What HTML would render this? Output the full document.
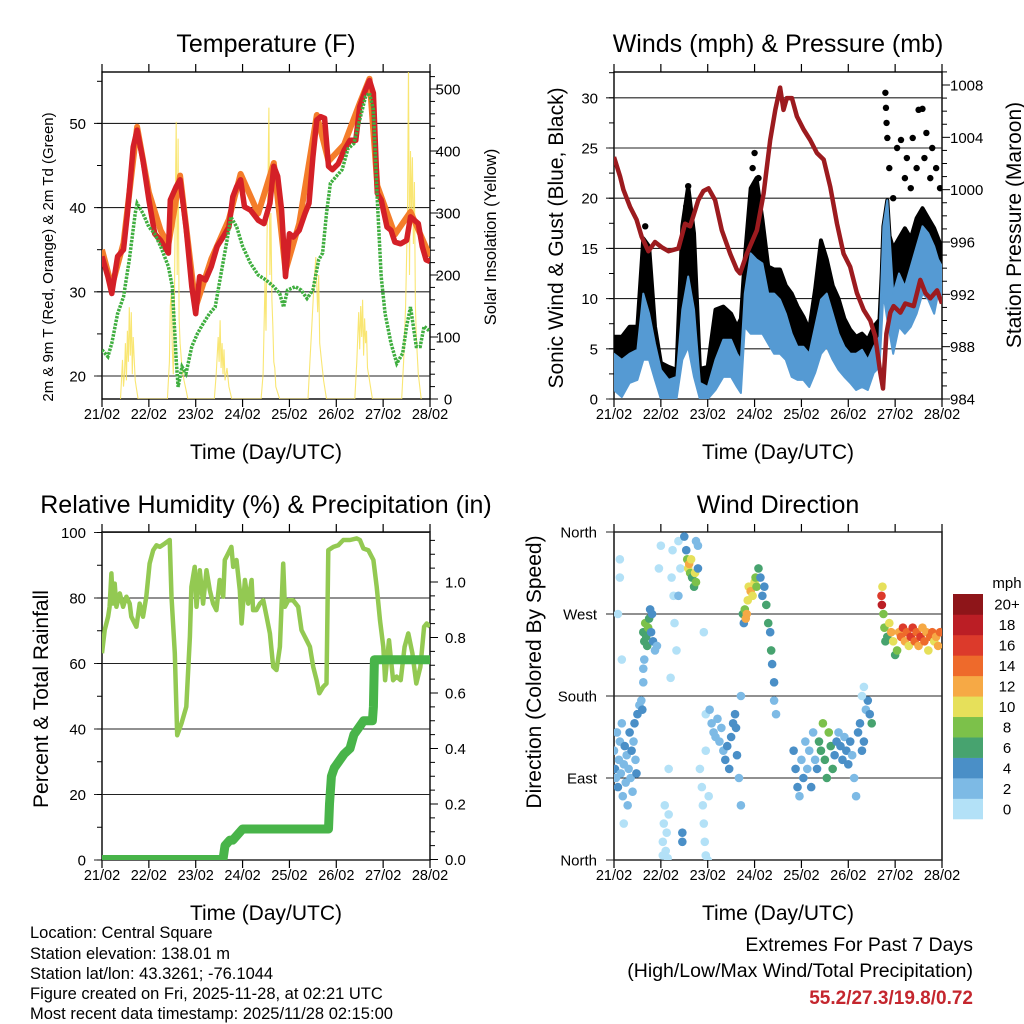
<!DOCTYPE html>
<html><head><meta charset="utf-8">
<style>
html,body{margin:0;padding:0;background:#fff;}
svg{display:block;font-family:"Liberation Sans",Arial,sans-serif;}
</style></head>
<body>
<svg id="fig" width="1024" height="1024" viewBox="0 0 1024 1024" xmlns="http://www.w3.org/2000/svg">
<rect width="1024" height="1024" fill="#fff"/>
<defs>
<clipPath id="c1"><rect x="102" y="72" width="328" height="327"/></clipPath>
<clipPath id="c2"><rect x="614" y="72" width="328" height="327"/></clipPath>
<clipPath id="c3"><rect x="102" y="532" width="328" height="328"/></clipPath>
<clipPath id="c4"><rect x="614" y="532" width="328" height="328"/></clipPath>
</defs>
<g id="layer"></g>
<!-- titles -->
<text x="266" y="52" font-size="25" text-anchor="middle">Temperature (F)</text>
<text x="778" y="52" font-size="25" text-anchor="middle">Winds (mph) &amp; Pressure (mb)</text>
<text x="266" y="513" font-size="25" text-anchor="middle">Relative Humidity (%) &amp; Precipitation (in)</text>
<text x="778" y="513" font-size="25" text-anchor="middle">Wind Direction</text>
<!-- axis titles -->
<text x="266" y="459" font-size="21" text-anchor="middle">Time (Day/UTC)</text>
<text x="778" y="459" font-size="21" text-anchor="middle">Time (Day/UTC)</text>
<text x="266" y="920" font-size="21" text-anchor="middle">Time (Day/UTC)</text>
<text x="778" y="920" font-size="21" text-anchor="middle">Time (Day/UTC)</text>
<text transform="translate(53,257) rotate(-90)" font-size="15" text-anchor="middle">2m &amp; 9m T (Red, Orange) &amp; 2m Td (Green)</text>
<text transform="translate(496,237) rotate(-90)" font-size="16.5" text-anchor="middle">Solar Insolation (Yellow)</text>
<text transform="translate(563,238) rotate(-90)" font-size="21" text-anchor="middle">Sonic Wind &amp; Gust (Blue, Black)</text>
<text transform="translate(1021,225) rotate(-90)" font-size="21" text-anchor="middle">Station Pressure (Maroon)</text>
<text transform="translate(48,699) rotate(-90)" font-size="21" text-anchor="middle">Percent &amp; Total Rainfall</text>
<text transform="translate(541,672) rotate(-90)" font-size="21" text-anchor="middle">Direction (Colored By Speed)</text>
<!-- footer -->
<g font-size="16.5">
<text x="30" y="938">Location: Central Square</text>
<text x="30" y="959">Station elevation: 138.01 m</text>
<text x="30" y="979">Station lat/lon: 43.3261; -76.1044</text>
<text x="30" y="999">Figure created on Fri, 2025-11-28, at 02:21 UTC</text>
<text x="30" y="1019">Most recent data timestamp: 2025/11/28 02:15:00</text>
</g>
<text x="973" y="951" font-size="19.5" text-anchor="end">Extremes For Past 7 Days</text>
<text x="973" y="977" font-size="19.5" text-anchor="end">(High/Low/Max Wind/Total Precipitation)</text>
<text x="973" y="1004" font-size="19" font-weight="bold" fill="#c4262e" text-anchor="end">55.2/27.3/19.8/0.72</text>
</svg>
<script>
// ---------- data ----------
const dayLabels = ["21/02","22/02","23/02","24/02","25/02","26/02","27/02","28/02"];
const tempT = [0,3,5,8,11,13,16,18,21,24,27,30,33,34,35,38,40,43,46,48,50,53,56,59,62,65,67,69,71,73,76,80,83,86,88,90,92,94,96,98,101,104,106,108,110,112,114,116,118,121,124,127,130,132,135,137,139,141,143,146,148,150,153,156,158,160,162,164,166,168];
const tempRed = [34.2,31.8,29.8,34.2,35,39.3,47.2,49.2,45.6,40.9,36.9,36.1,35,34.6,40.9,42.5,43.3,37.7,30.6,27.4,31.8,31.4,33,35.4,36.5,37.7,41.3,42.5,43.3,40.1,39.7,38.5,38.1,40.5,44.9,43.7,39.7,31.8,36.9,36.5,37.3,39.3,40.5,46,50.4,50.8,50.6,44.9,44.5,45.2,46.8,48,48,52,54,55.1,53.6,41.7,40.9,37.7,37.3,35.9,35.7,36.1,38.9,38.5,38.1,35.4,33.8,33.6];
const orangeT = [0,5,11,18,24,30,34,40,48,56,65,71,80,88,94,101,110,116,124,132,137,141,150,158,168];
const orangeV = [35,30.6,35.8,49.6,41.8,37.3,35.6,43.8,28.2,33.9,38.6,44,39.3,45.3,32.5,38.1,51,45.5,47.5,52.4,55.3,42.6,36.8,39.5,34.2];
const tdT = [0,3,5,8,11,14,17,18,21,24,27,30,34,36,38,39,41,43,46,49,52,55,58,61,64,66,69,72,76,80,84,88,91,93,95,99,102,105,108,111,113,115,117,120,123,126,129,132,135,137,139,141,143,145,148,151,154,156,158,161,163,165,168];
const tdV = [23.1,22.3,23.9,27.4,29.4,33.8,39.3,40.5,39.3,37.7,36.9,35.4,33,30.6,21.9,18.7,21.1,20.3,23.5,25.1,26.3,27.4,28.2,32.2,36.1,38.9,37.7,35.4,33.4,32,31.4,30.6,29.8,28.2,30.2,30.6,30.2,29.2,30.2,33.8,34.6,39.3,42.9,43.7,44.5,47,47.6,50.4,53.2,53.6,51.6,40.9,31.8,27.4,23.9,21.5,22.7,25.9,28.2,23.5,23.5,25.9,25.3];
const solarT = [9.5,10.5,11,11.5,12,12.5,13,13.5,14,14.5,15,15.5,16,17,18.5, 33.5,34.5,35,35.5,36,36.5,37,37.5,38,38.5,39,39.5,40,41,42,43,44, 57.5,58.5,59.5,60,60.5,61,61.5,62,62.5,63,64,65,66.5, 81.5,82.5,83.5,84,84.5,85,85.5,86,86.5,87,87.5,88,88.5,89,90,91, 105.5,106.5,107.5,108.5,109.5,110.5,111,111.5,112.5,113.5,115, 129.5,130.5,131.5,132,132.5,133,133.5,134,134.5,135,135.5,136,137,138.5, 153.5,154.5,155.5,156.5,157,157.5,158,158.5,159,159.5,160,160.5,161,162,163.5];
const solarV = [0,63,20,40,90,30,110,60,148,70,140,40,100,30,0, 0,60,150,170,80,40,120,300,447,200,420,130,90,50,30,15,0, 0,40,100,60,127,50,90,40,80,30,50,20,0, 0,40,190,110,260,350,470,200,300,160,120,60,50,20,10,0, 0,60,120,180,229,140,200,90,60,30,0, 0,60,140,80,150,100,160,70,130,90,110,50,30,0, 0,60,150,300,540,200,400,300,390,250,350,150,100,40,0];
const tempTicks = [20,30,40,50];
const solarTicks = [0,100,200,300,400,500];

const windT = [0,4,8,12,15,18,21,24,28,32,35,38,41,44,48,52,56,60,63,65,67,70,73,76,79,82,85,88,91,94,97,100,103,106,109,112,115,118,121,124,127,130,133,136,138,140,143,146,149,152,155,158,161,164,166,168];
const windLo = [0.9,0.2,1.6,1.9,3.9,3.9,1.9,0,0,0,3.9,5.2,2.2,0,0,0.9,2.2,2.2,1.2,0.6,7.2,6.5,6.5,6.5,5.5,4.5,4.5,3.9,2.2,1.9,1.9,1.2,2.6,4.5,5.2,3.9,2.9,2.2,1.6,0.9,1.2,0.9,2.6,3.2,10.5,7.9,4.5,7.2,6.5,7.2,8.5,10.5,9.9,8.5,10.5,9.9];
const windHi = [4.5,3.9,4.5,4.9,10.5,8.5,5.5,2.9,1.9,2.2,8.9,12.2,8.9,1.6,1.2,3.9,5.9,5.9,4.5,3.9,10.5,14.5,13.9,13.5,10.5,10.5,9.9,8.5,6.5,5.2,5.2,4.5,7.2,9.9,10.5,8.5,6.5,5.2,4.5,4.5,4.9,3.9,5.2,6.2,17.2,19.8,10.5,12.5,11.2,13.2,15.2,17.2,16.5,15.2,13.9,13.2];
const gustV = [6.2,6.2,7.2,7.2,16,15.2,7.2,3.6,3.2,2.9,17.2,21.2,16.5,3.0,3.2,8.9,9.2,8.5,7.2,8.0,14,21,22,17.9,13.2,12.9,12.9,11.3,10.5,9.2,8.2,6.9,10.9,15.8,13.9,11.3,10,8,6.9,6.2,6.5,5.9,7.2,7.9,16,17,15,16,17,16,18,19,18,17,16,15];
const gustPeakT = [16,37,38,71,72,74,139,139.3,139.6,140,141,143,145,147,149,150,152,153,155,156,158,159,160,162,163,165,167];
const gustPeakV = [17.2,19.2,21.2,23,24.5,22,30.5,29,27.5,26,23,20,25,25.8,22,24,21,26,23,28.8,28.9,24,26.5,22,25,23,21];
const presT = [0,3.1,4.8,8.2,11.6,14.2,17.6,21,24.4,27.9,33,36.4,39,43.2,45.8,48.4,51.8,55.2,59.5,62.9,64.6,68,73.2,76.6,80,82.6,85.1,86.8,88.5,91.1,93.7,97.1,100.5,103.9,107.4,110.8,114.2,117.6,121,124.4,127.9,131.3,133.8,136.4,137.8,139.5,141.5,143.2,146.7,149.2,153.5,156.9,159.5,162,165.5,168];
const presV = [1002.5,1001,1000,998.7,997.7,996.4,995.3,996,995.6,995.3,995.5,997.4,997.2,999.2,999.9,1000.1,999.2,996.9,995.1,993.9,993.6,995.1,996.9,999.7,1003.8,1006.1,1007.8,1006.1,1007,1007,1005.6,1004.6,1003.8,1002.8,1002.3,1000.2,997.4,995.1,994.1,992.1,990.8,990,988.8,986,984.8,989,990.6,991.1,990.6,991.3,991.1,993.1,992.1,991.7,992.3,991.3];
const windTicks = [0,5,10,15,20,25,30];
const presTicks = [984,988,992,996,1000,1004,1008];

const rhT = [0,1.4,3.1,3.9,4.8,5.6,6.5,7.4,9.1,10.8,12.5,14.2,15,17.6,19.3,21,22.7,24.4,26.2,27.9,29.6,32.1,34.7,35.6,37.3,38.5,40.7,43.2,45,45.8,47.5,48.4,50.1,51.8,53.5,55.2,56.9,58.6,60.3,62.1,62.9,64.6,66.3,67.2,68.9,70.6,71.5,73.2,74.9,76.6,77.4,79.1,80.9,82.6,84.3,86,87.7,89.4,91.1,92.8,93.7,95.4,97.9,100.5,102.2,104.8,106.5,108.2,109.9,111.3,113.3,115,115.9,118.5,121,123.6,127,130.4,132.1,133.9,136.4,139,140.7,142.4,144.1,145,147,149.1,150.9,153,155,156.9,159,161,163.1,165,166.3,168];
const rhV = [63.1,70.2,74.3,77.3,87.5,78.3,84.4,77.3,81.4,77.3,80.4,78.3,74.3,71.2,78.3,74.3,80.4,90.5,94.6,96.1,95.6,96.6,97.7,80.4,63.1,38.1,41.7,46.8,68.2,83.4,89.5,77.3,88.5,78.3,88.5,82.4,78.3,76.3,85.5,80.4,91.6,93.6,95.6,89.5,91.6,82.4,72.2,85.5,78.3,85.5,76.3,76.3,78.3,79.3,74.3,69.2,59,58,65.1,90.5,77.3,79.3,79.3,77.3,70.2,67.1,65.1,59,54.9,50.9,52.9,53.9,94.6,95.6,96.1,97.7,97.7,98.2,97.7,95.1,94.6,91.6,83.4,73.2,65.1,54.9,67.1,54.9,56,54.9,65.1,69.2,63.1,53.9,59,71.2,72.2,71.2];
const rainT = [0,62,63,65.5,67,72,116,116.5,117.5,119,121,124,127,129,131,134,138.5,139,139.5,168];
const rainV = [0,0,0.05,0.07,0.07,0.11,0.11,0.2,0.3,0.33,0.35,0.38,0.40,0.45,0.47,0.5,0.5,0.55,0.72,0.72];
const rhTicks = [0,20,40,60,80,100];
const rainTicks = ["0.0","0.2","0.4","0.6","0.8","1.0"];

const dirT = [0,0.5,1,1.5,2,2.5,3,3.5,4,4.5,5,5.5,6,6.5,7,7.5,8,8.5,9,9.5,10,10.5,11,11.5,12,13,14,14.5,3,3,2,4,5,
 15,15.5,16,16.5,17,17.5,18,18.5,19,19.5,20,21,22,15,15,15.5,
 23,24,25,25,25.5,26,26.5,27,27.5,28,28,29,29.5,30,30.5,31,32,33,33,34,35,35,
 36,37,37.5,38,38.5,39,39.5,40,41,41.5,42,43,43,42,44,45,45.5,46,46.5,47,48,48.5,47,46,47,
 49,50,51,52,53,54,55,56,57,58,59,60,61,62,62.5,63,64,65,65,
 66,66.5,67,67.5,68,68.5,69,70,71,72,72.5,73,74,75,76,77,78,79,80,80.5,81,82,82,83,
 92,93,94,95,96,97,98,99,100,101,102,103,104,105,106,107,108,109,110,111,112,113,114,115,116,117,118,119,120,121,122,123,124,125,126,127,128,129,130,131,132,128,127,
 137,137.2,137.5,138,138.5,139,140,141,142,143,144,145,146,147,148,149,150,151,152,153,154,155,156,157,158,159,160,161,162,163,164,165,166,167];
const dirV = [120,100,90,140,80,110,130,95,150,70,105,125,85,115,60,100,140,90,120,75,130,150,110,95,160,170,175,165,330,310,270,220,40,
 250,240,260,245,235,255,265,275,250,270,240,230,235,210,195,220,
 320,345,5,20,40,60,10,30,2,100,50,200,310,340,290,260,230,350,290,320,20,30,
 355,340,330,320,325,315,330,310,300,315,305,320,345,350,100,80,60,40,20,5,0,70,120,250,160,
 165,150,140,135,155,130,145,120,110,125,100,135,150,160,145,115,90,60,180,
 270,260,275,265,270,285,300,295,290,305,310,300,320,310,290,300,280,260,250,230,215,195,175,160,
 120,100,80,70,110,90,130,100,120,80,140,110,100,130,120,150,110,90,140,125,100,115,130,140,125,110,135,120,105,130,115,90,70,140,150,120,130,165,175,160,150,190,180,
 290,280,300,270,255,240,245,260,250,240,225,230,250,245,255,240,250,235,245,255,240,250,235,245,255,240,250,230,245,250,240,245,235,250];
const dirS = [3,4,3,2,4,3,3,2,2,3,3,4,3,2,3,3,4,3,4,3,3,4,3,4,4,3,3,4,1,1,1,1,1,
 6,7,8,7,6,9,7,5,4,5,4,3,2,3,3,2,
 1,1,1,1,1,1,1,1,1,1,1,1,1,1,1,1,1,1,2,1,4,4,
 4,5,8,10,12,9,11,7,6,10,8,5,2,2,1,1,1,1,1,1,1,1,1,1,1,
 3,2,3,2,2,3,2,3,4,4,5,4,4,4,5,4,2,2,2,
 6,5,8,12,13,10,10,12,10,11,9,8,6,5,4,5,6,6,5,6,5,4,3,3,
 4,4,4,3,3,4,2,3,2,4,3,3,5,6,7,8,6,7,8,7,6,5,4,3,4,4,3,4,4,4,3,3,2,4,4,5,4,3,4,5,6,1,1,
 16,18,10,9,8,6,7,11,12,10,6,8,13,14,16,12,15,11,17,16,14,15,13,16,12,14,13,10,15,14,11,13,12,14];
const dirTicks = ["North","East","South","West","North"];
const speedColors = ["#b3e1f7","#7dbae5","#4a8fc7","#47a36f","#7cc14a","#e6e05a","#f6a945","#ee6a2b","#dc3a2b","#bb1e25","#8e1519"];
const speedLabels = ["0","2","4","6","8","10","12","14","16","18","20+"];

// ---------- helpers ----------
const NS = "http://www.w3.org/2000/svg";
const layer = document.getElementById("layer");
function mk(tag, attrs, parent) {
  const e = document.createElementNS(NS, tag);
  for (const k in attrs) e.setAttribute(k, attrs[k]);
  (parent || layer).appendChild(e);
  return e;
}
function xs(x0, x1) { return t => x0 + (t / 168) * (x1 - x0); }
function lin(d0, d1, r0, r1) { return v => r0 + (v - d0) / (d1 - d0) * (r1 - r0); }
function pathOf(T, V, sx, sy) { return T.map((t, i) => (i ? "L" : "M") + sx(t).toFixed(1) + "," + sy(V[i]).toFixed(1)).join(""); }

function frame(name, x0, y0, x1, y1) {
  const g = mk("g", {});
  
  
  const sx = xs(x0, x1);
  dayLabels.forEach((lab, i) => {
    const x = sx(i * 24);
    const tk = mk("line", {x1: x, x2: x, y1: y1, y2: y1 + 8, stroke: "#000", "stroke-width": 1.2}, g);
    
    
    const tt = mk("line", {x1: x, x2: x, y1: y0, y2: y0 - 8, stroke: "#000", "stroke-width": 1.2}, g);
    
    
    const tl = mk("text", {x: x, y: y1 + 20, "font-size": 14.5, "text-anchor": "middle"}, g);
    tl.textContent = lab;
    
    
  });
  const r = mk("rect", {x: x0, y: y0, width: x1 - x0, height: y1 - y0, fill: "none", stroke: "#000", "stroke-width": 1.4}, g);
  
  
  return g;
}
function grid(g, y, x0, x1) {
  const l = mk("line", {x1: x0 - 8, x2: x1, y1: y, y2: y, stroke: "#222", "stroke-width": 1.1}, g);
  
  
}
function tick(g, x, y, len) {
  const l = mk("line", {x1: x, x2: x + len, y1: y, y2: y, stroke: "#000", "stroke-width": 1}, g);
  
  
}
function label(g, x, y, txt, anchor) {
  const t = mk("text", {x: x, y: y + 5.5, "font-size": 15, "text-anchor": anchor}, g);
  t.textContent = txt;
  
  
}

// ---------- panel 1: temperature ----------
(function () {
  const x0 = 102, x1 = 430, y0 = 72, y1 = 399;
  const sx = xs(x0, x1);
  const sy = lin(20, 50, 376, 123.4);
  const sy2 = lin(0, 500, 399, 89);
  const g = frame("temperature", x0, y0, x1, y1);
  tempTicks.forEach(v => { grid(g, sy(v), x0, x1); label(g, 86, sy(v), String(v), "end"); });
  for (let v = 20; v <= 55; v += 5) tick(g, x0, sy(v), -5);
  for (let v = 0; v <= 520; v += 20) tick(g, x1, sy2(v), v % 100 === 0 ? 8 : 5);
  solarTicks.forEach(v => label(g, 448, sy2(v), String(v), "middle"));
  const p = mk("g", {"clip-path": "url(#c1)"});
  
  
  const s = mk("path", {d: pathOf(solarT, solarV, sx, sy2), fill: "none", stroke: "#f8e25a", "stroke-width": 1.1, opacity: 0.85}, p);
  
  
  const o = mk("path", {d: pathOf(orangeT, orangeV, sx, sy), fill: "none", stroke: "#f47d2a", "stroke-width": 6, "stroke-linejoin": "round"}, p);
  
  
  const r = mk("path", {d: pathOf(tempT, tempRed, sx, sy), fill: "none", stroke: "#d42027", "stroke-width": 5.5, "stroke-linejoin": "round"}, p);
  
  
  const d = mk("path", {d: pathOf(tdT, tdV, sx, sy), fill: "none", stroke: "#3fae3f", "stroke-width": 3.5, "stroke-dasharray": "2.5 1.2"}, p);
  
  
})();

// ---------- panel 2: winds ----------
(function () {
  const x0 = 614, x1 = 942, y0 = 72, y1 = 399;
  const sx = xs(x0, x1);
  const sy = lin(0, 30, 399, 97.8);
  const sy2 = lin(984, 1008, 399, 85);
  const g = frame("winds", x0, y0, x1, y1);
  windTicks.forEach(v => { grid(g, sy(v), x0, x1); label(g, 598, sy(v), String(v), "end"); });
  for (let v = 0; v <= 32.5; v += 2.5) tick(g, x0, sy(v), -5);
  for (let v = 984; v <= 1009; v += 1) tick(g, x1, sy2(v), (v % 4 === 0) ? 8 : 5);
  presTicks.forEach(v => label(g, 950, sy2(v), String(v), "start"));
  const p = mk("g", {"clip-path": "url(#c2)"});
  
  
  const bandG = windT.map((t, i) => sx(t).toFixed(1) + "," + sy(gustV[i]).toFixed(1)).join(" ") + " " +
    windT.slice().reverse().map((t, j) => sx(t).toFixed(1) + "," + sy(windHi[windT.length - 1 - j]).toFixed(1)).join(" ");
  const gb = mk("polygon", {points: bandG, fill: "#000", stroke: "#000", "stroke-width": 4, "stroke-linejoin": "round"}, p);
  
  
  gustPeakT.forEach((t, i) => {
    const c = mk("circle", {cx: sx(t), cy: sy(gustPeakV[i]), r: 3.2, fill: "#000"}, p);
    
    
  });
  const band = windT.map((t, i) => sx(t).toFixed(1) + "," + sy(windHi[i]).toFixed(1)).join(" ") + " " +
    windT.slice().reverse().map((t, j) => sx(t).toFixed(1) + "," + sy(windLo[windT.length - 1 - j]).toFixed(1)).join(" ");
  const wb = mk("polygon", {points: band, fill: "#559ad3", stroke: "#559ad3", "stroke-width": 2, "stroke-linejoin": "round"}, p);
  
  
  const pr = mk("path", {d: pathOf(presT, presV, sx, sy2), fill: "none", stroke: "#9c1b1f", "stroke-width": 4.5, "stroke-linejoin": "round"}, p);
  
  
})();

// ---------- panel 3: RH & rain ----------
(function () {
  const x0 = 102, x1 = 430, y0 = 532, y1 = 860;
  const sx = xs(x0, x1);
  const sy = lin(0, 100, 860, 532.5);
  const sy2 = lin(0, 1, 859.5, 582);
  const g = frame("humidity", x0, y0, x1, y1);
  rhTicks.forEach(v => { grid(g, sy(v), x0, x1); label(g, 86, sy(v), String(v), "end"); });
  for (let v = 0; v <= 100; v += 10) tick(g, x0, sy(v), -5);
  for (let k = 0; k <= 23; k++) tick(g, x1, sy2(k * 0.05), k % 4 === 0 ? 8 : 5);
  rainTicks.forEach(v => label(g, 445, sy2(parseFloat(v)), v, "start"));
  const p = mk("g", {"clip-path": "url(#c3)"});
  
  
  const rh = mk("path", {d: pathOf(rhT, rhV, sx, sy), fill: "none", stroke: "#93c952", "stroke-width": 4.5, "stroke-linejoin": "round"}, p);
  
  
  const rn = mk("path", {d: pathOf(rainT, rainV, sx, sy2), fill: "none", stroke: "#48b449", "stroke-width": 9, "stroke-linejoin": "round", "stroke-linecap": "round"}, p);
  
  
})();

// ---------- panel 4: wind direction ----------
(function () {
  const x0 = 614, x1 = 942, y0 = 532, y1 = 860;
  const sx = xs(x0, x1);
  const sy = lin(0, 360, 860, 532);
  const g = frame("direction", x0, y0, x1, y1);
  dirTicks.forEach((lab, i) => { grid(g, sy(i * 90), x0, x1); label(g, 597, sy(i * 90), lab, "end"); });
  const p = mk("g", {"clip-path": "url(#c4)"});
  
  
  dirT.forEach((t, i) => {
    const bin = Math.min(10, Math.max(0, Math.floor(dirS[i] / 2)));
    const c = mk("circle", {cx: sx(t), cy: sy(dirV[i]), r: 4.3, fill: speedColors[bin]}, p);
    
    
  });
  const cb = mk("g", {});
  
  
  const h = (819 - 594) / 11;
  speedColors.forEach((col, i) => {
    const y = 819 - (i + 1) * h;
    const r = mk("rect", {x: 953, y: y, width: 30, height: h + 0.3, fill: col}, cb);
    
    
    const t = mk("text", {x: 1007, y: y + h / 2 + 5.5, "font-size": 15, "text-anchor": "middle"}, cb);
    t.textContent = speedLabels[i];
    
    
  });
  const u = mk("text", {x: 1007, y: 588, "font-size": 15, "text-anchor": "middle"}, cb);
  u.textContent = "mph";
  
  
})();
</script>
</body></html>
